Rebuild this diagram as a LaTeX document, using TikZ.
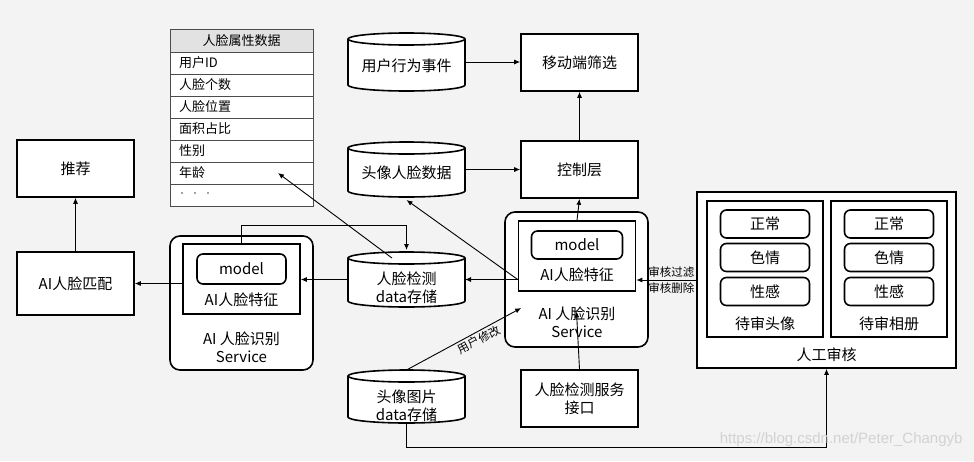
\documentclass[tikz,border=0pt]{standalone}
\usepackage{fontspec}
\setmainfont{Noto Sans CJK SC}
\newfontfamily\wmfont{Liberation Sans}
\usetikzlibrary{arrows.meta}

\definecolor{bgcol}{RGB}{243,243,243}
\definecolor{headcol}{RGB}{226,226,226}

% cylinder drawn round an empty named node
\newcommand{\dbcyl}[1]{%
  \filldraw[fill=white, line width=1.6pt]
    ([yshift=-6pt]#1.north west) -- ([yshift=6pt]#1.south west)
    arc[start angle=180, end angle=360, x radius=58.5pt, y radius=6pt]
    -- ([yshift=-6pt]#1.north east)
    arc[start angle=0, end angle=180, x radius=58.5pt, y radius=6pt] -- cycle;
  \draw[line width=1.6pt] ([yshift=-6pt]#1.north west)
    arc[start angle=180, end angle=360, x radius=58.5pt, y radius=6pt];}

% name, position, height, text shift, text
\newcommand{\dbnode}[5]{%
  \path (#2) node[dbbox, minimum height=#3] (#1) {};
  \dbcyl{#1}
  \node[align=center] (#1txt) at ([yshift=-#4]#1.center) {#5};}

\begin{document}
\begin{tikzpicture}[x=1pt, y=-1pt,
  font=\fontsize{15}{18}\selectfont,
  box/.style={draw, line width=1.6pt, fill=white, minimum width=117pt, minimum height=57pt, inner sep=0pt},
  rbox/.style={box, rounded corners=6pt},
  svc/.style={box, rounded corners=10pt, minimum width=143pt, minimum height=134pt},
  dbbox/.style={minimum width=117pt, inner sep=0pt, outer sep=0pt},
  row/.style={draw=black!70, line width=0.8pt, fill=white, minimum width=143pt, minimum height=22pt, inner sep=0pt},
  arr/.style={-{Latex[length=6pt,width=5pt]}, line width=0.9pt},
  lbl/.style={font=\fontsize{11.5}{13}\selectfont, inner sep=2pt}]

% background
\fill[bgcol] (0,0) rectangle (974,461);
\useasboundingbox (0,0) rectangle (974,461);

% attribute table
\node[row, fill=headcol, minimum height=23pt, font=\fontsize{13}{15}\selectfont] (attrhead) at (241.5,41) {人脸属性数据};
\foreach \name [count=\i] in {用户ID,人脸个数,人脸位置,面积占比,性别,年龄,{}} {
  \node[row] (attr\i) at (241.5,41+22*\i) {};
  \node[anchor=west, font=\fontsize{13}{15}\selectfont] (attr\i txt) at ([xshift=6pt]attr\i.west) {\name};
}
\node[anchor=west, font=\fontsize{8}{8}\selectfont, text=black!70] (attrdots) at ([xshift=5pt]attr7.west) {•\hspace{5pt}•\hspace{5pt}•};

% left column
\node[box] (rec) at (75.5,168.5) {推荐};
\node[box, minimum height=63pt] (match) at (75.5,283.5) {AI人脸匹配};

% left service
\node[svc] (svcL) at (241.5,303) {};
\node[box, minimum height=70pt] (featL) at (241.5,279) {};
\node[rbox, minimum width=89pt, minimum height=30pt] (modelL) at (241.5,269) {model};
\node (featLtxt) at (241.5,300) {AI人脸特征};
\node[align=center] (svcLtxt) at (241.5,347) {AI 人脸识别\\Service};

% data stores
\dbnode{dbevent}{406.5,62}{58pt}{4pt}{用户行为事件}
\dbnode{dbface}{406.5,169.5}{55pt}{3pt}{头像人脸数据}
\dbnode{dbdetect}{406.5,279.5}{55pt}{8pt}{人脸检测\\data存储}
\dbnode{dbimg}{406.5,396.5}{53pt}{9pt}{头像图片\\data存储}

% middle column
\node[box] (mobile) at (579.5,62.5) {移动端筛选};
\node[box] (ctrl) at (579.5,169.5) {控制层};
\node[box, align=center] (api) at (579.5,398.5) {人脸检测服务\\接口};

% right service
\node[svc, minimum height=135pt] (svcR) at (576.5,279.5) {};
\node[box, minimum height=70pt] (featR) at (577,256) {};
\node[rbox, minimum width=91pt, minimum height=28pt] (modelR) at (577,245) {model};
\node (featRtxt) at (577,275) {AI人脸特征};
\node[align=center] (svcRtxt) at (577,322.5) {AI 人脸识别\\Service};

% manual review
\node[box, minimum width=259pt, minimum height=176pt] (review) at (826.5,280) {};
\node[box, minimum width=116pt, minimum height=136pt] (pendA) at (765,269) {};
\node[box, minimum width=116pt, minimum height=136pt] (pendB) at (889,269) {};
\foreach \col/\cx in {A/765,B/889} {
  \foreach \t/\cy [count=\j] in {正常/224,色情/257.5,性感/291.5}
    \node[rbox, minimum width=89pt, minimum height=28pt] (\col\j) at (\cx,\cy) {\t};
}
\node (pendAtxt) at (765,324) {待审头像};
\node (pendBtxt) at (889,324) {待审相册};
\node (reviewtxt) at (826.5,355) {人工审核};

% connectors
\draw[arr] (dbevent.east) -- (dbevent.east -| mobile.west);
\draw[arr] (dbface.east) -- (dbface.east -| ctrl.west);
\draw[arr] (ctrl.north) -- (mobile.south);
\draw[arr] (featR.north) -- (ctrl.south);
\draw[arr] (featR.west |- dbdetect.east) -- (dbdetect.east);
\draw[arr] (featR.west |- dbdetect.east) -- ([yshift=-3pt]dbface.south);
\draw[arr] (dbdetect.west) -- (dbdetect.west -| featL.east);
\draw[arr] (featL.west |- match.east) -- (match.east);
\draw[arr] (match.north) -- (rec.south);
\draw[arr] (featL.north) -- ++(0,-18) -| ([yshift=2pt]dbdetect.north);
\draw[arr] ([xshift=-14.5pt,yshift=-6pt]dbdetect.north) -- ([xshift=36.5pt]attr6.center);
\draw[arr] (dbimg.north) -- node[lbl, sloped, below, pos=0.6] (editlbl) {用户修改} ([xshift=17pt,yshift=-28.5pt]svcR.west);
\draw[arr] (api.north) -- ([yshift=-32pt]svcR.center);
\draw[arr] (review.west) -- node[lbl, above, xshift=5pt] (filterlbl) {审核过滤} node[lbl, below, xshift=5pt] (deletelbl) {审核删除} (review.west -| featR.east);
\draw[arr] (dbimg.south) -- ++(0,24) -| (review.south);

% watermark
\node[anchor=east, font=\wmfont\fontsize{15}{17}\selectfont, text=gray!35] (wm) at (966,440) {https://blog.csdn.net/Peter\_Changyb};
\end{tikzpicture}
\end{document}
